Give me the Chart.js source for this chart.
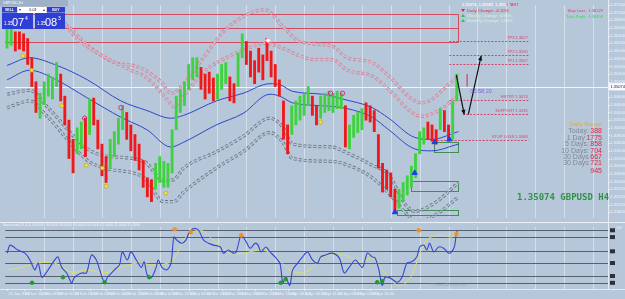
<!DOCTYPE html>
<html><head><meta charset="utf-8">
<script src="https://cdn.jsdelivr.net/npm/chart.js@4.4.1/dist/chart.umd.min.js"></script>
<style>
html,body{margin:0;padding:0;width:625px;height:299px;overflow:hidden;background:#b7c7da;}
canvas{position:absolute;left:0;}
#main{top:0;} #osc{top:222px;}
</style></head><body>
<canvas id="main" width="625" height="223"></canvas>
<canvas id="osc" width="625" height="77"></canvas>
<script>
// ===== DATA =====
const symbol = "GBPUSD", timeframe = "H4";
const currentPrice = 1.35074, bidPrice = 1.35074, askPrice = 1.35083;
const barHigh = [1.3665,1.3670,1.3650,1.3650,1.3645,1.36325,1.35825,1.3520,1.3490,1.3520,
 1.3540,1.35325,1.3570,1.3540,1.34825,1.3420,1.3370,1.3400,1.3415,1.3425,
 1.3475,1.34775,1.3420,1.33575,1.3325,1.3370,1.3390,1.3425,1.34575,1.3440,
 1.34075,1.33825,1.33575,1.3315,1.3270,1.3265,1.33075,1.3325,1.33125,1.33075,
 1.3395,1.34825,1.3500,1.3520,1.3565,1.35825,1.35825,1.35575,1.3540,1.3545,
 1.3530,1.3540,1.3565,1.3570,1.35325,1.3515,1.3595,1.3645,1.3625,1.3600,
 1.3575,1.36075,1.3590,1.36325,1.3600,1.3565,1.3525,1.3470,1.34075,1.34575,
 1.3470,1.34825,1.3490,1.35075,1.34825,1.34575,1.34825,1.3490,1.3495,1.3490,
 1.3495,1.3490,1.34575,1.34075,1.34325,1.3440,1.3450,1.3465,1.34575,1.3445,
 1.33825,1.33075,1.3290,1.32825,1.3240,1.3240,1.32575,1.3275,1.3300,1.33325,
 1.3390,1.3400,1.3415,1.34075,1.3395,1.3450,1.3445,1.34075,1.3470,1.3540];
const barLow = [1.36075,1.3615,1.3600,1.3605,1.3600,1.3565,1.35075,1.3440,1.3425,1.3460,
 1.34825,1.3475,1.35075,1.3470,1.34075,1.3320,1.32825,1.33325,1.3345,1.3325,
 1.33825,1.34075,1.3345,1.3275,1.32575,1.3295,1.3325,1.33575,1.3395,1.3370,
 1.3340,1.3315,1.3290,1.3245,1.3220,1.32075,1.3240,1.32575,1.3245,1.3245,
 1.32825,1.3395,1.3440,1.34575,1.3500,1.3525,1.35325,1.3500,1.3475,1.3490,
 1.3470,1.3475,1.3500,1.3515,1.3470,1.3465,1.35075,1.35825,1.3565,1.35325,
 1.3515,1.3545,1.3525,1.3575,1.35325,1.35075,1.34825,1.3370,1.33325,1.33825,
 1.34075,1.3420,1.34325,1.34575,1.34325,1.34075,1.3425,1.3440,1.3445,1.3440,
 1.3450,1.3450,1.3350,1.3345,1.3375,1.33875,1.3395,1.3420,1.3415,1.3390,
 1.3295,1.32325,1.3240,1.3220,1.31825,1.3190,1.32075,1.3225,1.3245,1.3270,
 1.33325,1.33575,1.3370,1.3365,1.33575,1.3395,1.3390,1.3365,1.3370,1.3470];
const barTrend = ("uu dddddd uuuuu dddd uu d u dddd uuuu ddddddd uuuuuuuuuuu dddd uuu dd uu " +
 "ddddddddddd uuuuu dd uuuuuu d uuuu dddddddd uuuuuuu ddd u dd uu").replace(/\s/g,'').split('');
const maUpper = [[0,1.35625],[5.5,1.35825],[11.5,1.3565],[19.5,1.3525],[27.6,1.3470],[33.9,1.3445],[39.7,1.3425],[42.8,1.34325],[50.7,1.3470],[57.2,1.3490],[63.7,1.3515],[66.1,1.35125],[69.2,1.3495],[76.4,1.34875],[81.3,1.3475],[88.5,1.34525],[92.5,1.3425],[98.8,1.3375],[102.9,1.3370],[109.4,1.3390]];
const maLower = [[0,1.3525],[5.5,1.3550],[11.5,1.35275],[19.5,1.34775],[27.6,1.34275],[33.9,1.3395],[39.7,1.3350],[42.8,1.33625],[50.7,1.34075],[57.2,1.34375],[63.7,1.34875],[66.1,1.34825],[69.2,1.3465],[76.4,1.34575],[81.3,1.34525],[88.5,1.34275],[92.5,1.3395],[98.8,1.3345],[102.9,1.3340],[109.4,1.33575]];
const bandRedOuter = [[4.3,1.3745],[14.7,1.3665],[19.5,1.3615],[26.0,1.3570],[31.5,1.3560],[37.3,1.3520],[39.7,1.3490],[42.8,1.3515],[47.6,1.35825],[52.4,1.3650],[57.2,1.3690],[62.5,1.37075],[66.8,1.3665],[70.9,1.3625],[78.8,1.36125],[82.5,1.35825],[88.5,1.3570],[92.5,1.3535],[98.1,1.3475],[100.5,1.3465],[108.9,1.3530]];
const bandRedInner = [[10.3,1.37325],[16.3,1.3640],[23.6,1.3585],[30.0,1.3550],[33.9,1.3530],[38.7,1.3475],[40.4,1.3455],[42.8,1.34825],[47.6,1.3545],[53.1,1.35825],[57.2,1.36025],[62.7,1.3620],[66.8,1.36075],[70.9,1.35875],[74.8,1.35775],[78.8,1.35775],[82.5,1.3550],[88.5,1.3535],[92.5,1.3500],[98.1,1.3440],[100.5,1.3430],[105.3,1.3450],[108.9,1.3480]];
const bandGrayInner = [[0,1.34875],[5.5,1.34975],[9.9,1.34525],[19.5,1.3345],[23.6,1.33275],[33.2,1.33125],[38.0,1.32625],[40.4,1.3265],[42.8,1.3295],[50.7,1.33375],[57.2,1.33775],[63.7,1.3425],[66.8,1.34025],[69.2,1.33575],[78.8,1.3350],[81.3,1.3340],[88.5,1.33025],[92.5,1.32775],[96.4,1.32025],[98.8,1.31825],[104.1,1.32075],[109.4,1.32575]];
const bandGrayOuter = [[0,1.34525],[5.5,1.3470],[9.9,1.34275],[19.5,1.3315],[23.6,1.3295],[33.2,1.3270],[38.0,1.32075],[40.4,1.32075],[42.8,1.32325],[50.7,1.3295],[57.2,1.33375],[63.7,1.33875],[66.8,1.33625],[69.2,1.3320],[78.8,1.33125],[81.3,1.33075],[88.5,1.3270],[93.3,1.3220],[96.9,1.3175],[99.3,1.3155],[104.1,1.3175],[109.4,1.3220]];
const swingLows = [[3.8,1.35875],[6.0,1.3550],[13.2,1.34575],[19.2,1.33025],[23.1,1.3295],[24.0,1.32475],[38.5,1.3230],[76.0,1.3415]];
const swingHighs = [[18.8,1.3425],[27.6,1.34525],[78.4,1.3490],[81.3,1.3490]];
const buyArrows = [[94.0,1.31800],[98.8,1.32825],[103.6,1.33625],[107.2,1.3370]];
const topMark = [[63.2,1.36275]];
const supplyZone = {to:109.4, levels:[1.36975,1.3660,1.36225]};
const demandZones = [[103.4,109.4,1.33375,1.33625],[97.8,109.4,1.3235,1.32625],[94.5,109.4,1.31725,1.3185]];
const targetLevels = [["TP3",1.36275,107.2],["TP2",1.35900,107.2],["TP1",1.35675,107.2],["ENTRY",1.34725,107.2],["SUPPORT",1.34350,110.5],["STOP LOSS",1.33675,103.4]];
const targetEnd = 126.2;
const projectionDown = [[108.9,1.35375],[110.8,1.34350]];
const projectionUp = [[111.8,1.34350],[114.9,1.35875]];
const liveBar = [[111.5,1.35075],[111.5,1.3540]];
const barTimer = "00:58:20";
const dailyRange = [["Today:",388],["1 Day",1775],["5 Days:",858],["10 Days:",704],["20 Days",667],["30 Days",721],["",945]];
const changes = [["Daily Change",-0.20],["Weekly Change",0.96],["Monthly Change",1.89]];
const stopLoss = 1.30229, takeProfit = 1.36858;
const oscMain = [[0,58],[0.7,71],[2.6,63],[4.3,58],[5.5,47],[6.7,31],[7.5,42],[8.4,19],[9.9,31],[11.5,47],[12.3,52],[13.2,35],[14.4,26],[15.6,10],[16.3,19],[18.0,26],[19.2,26],[20.4,55],[21.6,47],[22.4,31],[23.6,10],[24.3,19],[26.0,31],[27.2,39],[27.9,60],[29.1,47],[30.0,60],[31.3,47],[32.5,35],[33.2,44],[33.9,23],[34.9,18],[36.1,35],[36.6,47],[37.5,35],[38.7,31],[39.7,42],[40.4,84],[41.1,79],[42.3,74],[43.3,79],[44.0,90],[45.2,98],[46.4,95],[47.6,79],[48.8,74],[50.0,71],[51.7,68],[52.4,58],[53.6,63],[54.8,58],[55.5,60],[56.7,87],[57.7,79],[58.9,66],[60.1,74],[60.8,71],[61.5,60],[62.7,68],[63.7,60],[64.9,52],[66.1,42],[66.8,10],[67.5,18],[68.5,6],[69.2,31],[70.4,42],[71.6,52],[72.8,60],[74.0,47],[75.2,42],[76.0,52],[77.2,55],[78.8,58],[80.5,50],[81.7,26],[82.9,35],[84.4,47],[86.1,35],[87.3,58],[88.5,52],[89.2,50],[90.1,31],[90.9,6],[91.6,19],[92.8,18],[94.5,11],[95.7,19],[96.9,42],[98.1,44],[99.3,52],[100.0,68],[101.0,71],[101.7,63],[102.4,74],[103.4,60],[104.6,68],[105.8,66],[107.0,58],[107.7,60],[108.4,68],[108.9,90],[109.1,94]];
const oscSignal = [[0,31],[3.6,35],[7.5,42],[11.5,42],[15.6,27],[19.5,31],[23.6,26],[27.6,35],[31.5,42],[35.6,39],[39.7,44],[41.5,62],[43.5,85],[46.9,95],[50.0,79],[54.1,58],[57.2,58],[62.0,63],[65.1,52],[68.5,31],[71.6,26],[74.0,35],[76.4,52],[81.3,55],[86.1,44],[88.5,50],[90.5,35],[92.5,18],[95.0,5],[97.4,15],[99.0,38],[100.5,65],[102.2,82],[105.3,87],[107.7,84],[108.9,90]];
const oscBuyDots = [[6.0,10],[13.5,19],[23.6,11],[34.4,19],[66.3,10],[67.5,16],[89.7,11],[90.9,13]];
const oscSellDots = [[40.6,97],[44.5,92],[56.7,87],[99.8,95],[108.9,89]];
const oscLevels = [95,84,61,42,21,10];
const dateLabels = ["29 Jan 2018","31 Jan 16:00","5 Feb 08:00","8 Feb 00:00","12 Feb 16:00","15 Feb 08:00","20 Feb 00:00","22 Feb 16:00","27 Feb 08:00","2 Mar 00:00","6 Mar 16:00","9 Mar 08:00","14 Mar 00:00","16 Mar 16:00","21 Mar 08:00","26 Mar 00:00","28 Mar 16:00","2 Apr 08:00","5 Apr 00:00","9 Apr 16:00","12 Apr 08:00","17 Apr 00:00","19 Apr 16:00"];

// ===== STYLE / HELPERS =====
const BG = '#b7c7da';
const FONT = '"Liberation Sans", Arial, sans-serif';
const UP = '#3fd23f', DOWN = '#f01818';
const X_MIN = -0.5, X_MAX = 145.65;
const pts = a => a.map(p => ({x:p[0], y:p[1]}));
function line(ctx,x0,y0,x1,y1){ctx.beginPath();ctx.moveTo(x0,y0);ctx.lineTo(x1,y1);ctx.stroke();}
function text(ctx,s,x,y,font,color,align='left',base='middle'){ctx.font=font;ctx.fillStyle=color;ctx.textAlign=align;ctx.textBaseline=base;ctx.fillText(s,x,y);}
function arrowHead(ctx,x0,y0,x1,y1,size){const a=Math.atan2(y1-y0,x1-x0);ctx.beginPath();ctx.moveTo(x1,y1);ctx.lineTo(x1-size*Math.cos(a-0.45),y1-size*Math.sin(a-0.45));ctx.lineTo(x1-size*Math.cos(a+0.45),y1-size*Math.sin(a+0.45));ctx.closePath();ctx.fill();}
function bandSets(arr,color,order){
  const common = {type:'line', data:pts(arr), pointRadius:0, fill:false, cubicInterpolationMode:'monotone', borderDash:[3,2]};
  return [{...common, borderColor:color, borderWidth:3.2, order:order},
          {...common, borderColor:BG, borderWidth:1.4, order:order-1}];
}

// ===== MAIN CHART =====
const mainDecor = {
  id:'mainDecor',
  beforeDatasetsDraw(chart){
    const {ctx, chartArea:a, scales:{x,y}} = chart;
    const X=v=>x.getPixelForValue(v), Y=v=>y.getPixelForValue(v), r=v=>Math.round(v)+0.5;
    ctx.save(); ctx.lineWidth=1;
    ctx.strokeStyle='rgba(236,242,250,0.55)';
    for(let k=9;k<x.max;k+=7){const px=r(X(k));line(ctx,px,a.top,px,a.bottom);}
    ctx.strokeStyle='rgba(246,249,253,0.9)';
    const cp=r(Y(currentPrice)); line(ctx,a.left,cp,a.right,cp);
    ctx.strokeStyle='#d44a5e';
    const zx=r(X(supplyZone.to));
    supplyZone.levels.forEach(l=>{const py=r(Y(l));line(ctx,a.left,py,zx,py);});
    line(ctx,zx,r(Y(supplyZone.levels[0])),zx,r(Y(supplyZone.levels[2])));
    ctx.strokeStyle='#3f8e55';
    demandZones.forEach(([s,e,lo,hi])=>{const x0=r(X(s)),x1=r(X(e)),y0=r(Y(hi)),y1=r(Y(lo));ctx.strokeRect(x0,y0,x1-x0,y1-y0);});
    ctx.setLineDash([2,1.5]); ctx.strokeStyle='#d2466c';
    const xe=r(X(targetEnd));
    targetLevels.forEach(([n,p,s])=>{const py=r(Y(p));line(ctx,X(s),py,xe,py);});
    ctx.setLineDash([]);
    ctx.restore();
  },
  afterDatasetsDraw(chart){
    const {ctx, scales:{x,y}} = chart;
    const X=v=>x.getPixelForValue(v), Y=v=>y.getPixelForValue(v);
    ctx.save();
    ctx.fillStyle='#111';
    arrowHead(ctx,X(projectionDown[0][0]),Y(projectionDown[0][1]),X(projectionDown[1][0]),Y(projectionDown[1][1]),5);
    arrowHead(ctx,X(projectionUp[0][0]),Y(projectionUp[0][1]),X(projectionUp[1][0]),Y(projectionUp[1][1]),5);
    const xe=X(targetEnd);
    targetLevels.forEach(([n,p])=>text(ctx,n+' '+p.toFixed(4),xe,Y(p)-1,'4px '+FONT,'#d2466c','right','bottom'));
    text(ctx,barTimer,X(projectionUp[0][0])+2,Y(currentPrice)+4.5,'5.5px '+FONT,'#8a5fd6','left','middle');
    ctx.restore();
  },
  afterDraw(chart){
    const {ctx, scales:{y}} = chart;
    ctx.save();
    ctx.strokeStyle='rgba(238,243,250,0.85)'; ctx.lineWidth=1; line(ctx,608.5,0,608.5,223);
    ctx.fillStyle='#eef3fa';
    for(let k=0;k<=27;k++){const v=1.3180+k*0.002; const py=y.getPixelForValue(v); if(py<3||py>219) continue;
      ctx.fillStyle='#eef3fa'; ctx.fillRect(608,Math.round(py),2,1);
      text(ctx,v.toFixed(5),610.5,py,'4px '+FONT,'#eef3fa');}
    const cp=y.getPixelForValue(currentPrice);
    ctx.fillStyle='#f6f8fb'; ctx.fillRect(609,cp-3.5,16,7);
    text(ctx,currentPrice.toFixed(5),610.5,cp,'4px '+FONT,'#1a2330');
    // trade panel
    ctx.fillStyle='#9fb1c9'; ctx.fillRect(0,0,68,6.5);
    text(ctx,symbol+','+timeframe,3,3.3,'3.5px '+FONT,'#f0f4fa');
    ctx.fillStyle='#2f3fd6'; ctx.fillRect(2,7,15,5.5); ctx.fillRect(47,7,18,5.5);
    text(ctx,'SELL',9.5,9.9,'bold 3.5px '+FONT,'#ffffff','center');
    text(ctx,'BUY',56,9.9,'bold 3.5px '+FONT,'#ffffff','center');
    ctx.fillStyle='#ffffff'; ctx.fillRect(17.5,7,29,6);
    text(ctx,'▾',20,10,'4px '+FONT,'#333','center'); text(ctx,'▴',44,10,'4px '+FONT,'#333','center');
    text(ctx,'0.01',33,10,'3.8px '+FONT,'#222','center');
    ctx.fillStyle='#2f3fd6'; ctx.fillRect(2,13,31,16); ctx.fillRect(35,13,30,16);
    const drawQuote=(p,x0)=>{const s=p.toFixed(5);
      text(ctx,s.slice(0,4),x0,25,'4.5px '+FONT,'#ffffff','left','alphabetic');
      text(ctx,s.slice(4,6),x0+8,26,'11px '+FONT,'#ffffff','left','alphabetic');
      text(ctx,s.slice(6),x0+21,19.5,'5px '+FONT,'#ffffff','left','alphabetic');};
    drawQuote(bidPrice,4); drawQuote(askPrice,37);
    text(ctx,bidPrice.toFixed(5)+'  '+askPrice.toFixed(5)+'  '+currentPrice.toFixed(5),462,5,'bold 4px '+FONT,'#f4f6fa');
    text(ctx,'START',506,5,'4px '+FONT,'#e0304c');
    changes.forEach(([n,v],i)=>{const yy=10.5+i*5; const up=v>=0;
      ctx.fillStyle=up?'#2cc84a':'#e0283c'; ctx.beginPath();
      if(up){ctx.moveTo(461,yy+1.5);ctx.lineTo(465,yy+1.5);ctx.lineTo(463,yy-1.5);}else{ctx.moveTo(461,yy-1.5);ctx.lineTo(465,yy-1.5);ctx.lineTo(463,yy+1.5);}
      ctx.closePath(); ctx.fill();
      text(ctx,n+': '+v.toFixed(2)+'%',467,yy,'4.3px '+FONT,up?'#d6f3d8':'#e0283c');});
    text(ctx,'Stop Loss : '+stopLoss.toFixed(5),603,11,'4px '+FONT,'#e03a5a','right');
    text(ctx,'Take Profit : '+takeProfit.toFixed(5),603,17,'4px '+FONT,'#2fe04e','right');
    text(ctx,'Daily Range',602,124,'6px '+FONT,'#eea23a','right');
    let ry=131.5;
    dailyRange.forEach(([lab,val])=>{ if(!lab) ry+=1.5;
      text(ctx,String(val),602,ry,'7px '+FONT,'#e5243f','right');
      const w=ctx.measureText(String(val)).width;
      if(lab) text(ctx,lab,602-w-1.5,ry,'7px '+FONT,'#7f8997','right');
      ry+=6.4;});
    text(ctx,currentPrice.toFixed(5)+' '+symbol+' '+timeframe,517,198,'bold 9px "DejaVu Sans Mono", monospace','#2e9444');
    ctx.restore();
  }
};

new Chart(document.getElementById('main'), {
  type:'line',
  data:{datasets:[
    ...bandSets(bandRedOuter,'#e27d8e',40),
    ...bandSets(bandRedInner,'#e27d8e',38),
    ...bandSets(bandGrayInner,'#6b7584',36),
    ...bandSets(bandGrayOuter,'#6b7584',34),
    {type:'line', data:pts(maUpper), borderColor:'#2b47c9', borderWidth:1, pointRadius:0, cubicInterpolationMode:'monotone', order:20},
    {type:'line', data:pts(maLower), borderColor:'#2b47c9', borderWidth:1, pointRadius:0, cubicInterpolationMode:'monotone', order:20},
    {type:'bar', data:barHigh.map((h,i)=>({x:i, y:[barLow[i],h]})), backgroundColor:barTrend.map(t=>t==='u'?UP:DOWN), borderWidth:0, barThickness:2.2, grouped:false, order:10},
    {type:'line', data:pts(projectionDown), borderColor:'#111', borderWidth:1.2, pointRadius:0, order:2},
    {type:'line', data:pts(projectionUp), borderColor:'#111', borderWidth:1.2, pointRadius:0, order:2},
    {type:'line', data:pts(liveBar), borderColor:'#d02a3a', borderWidth:1, pointRadius:0, order:2},
    {type:'line', showLine:false, data:pts(swingLows), pointRadius:2, pointBackgroundColor:'#f3e23c', pointBorderColor:'#b99b12', pointBorderWidth:0.6, order:1},
    {type:'line', showLine:false, data:pts(swingHighs), pointRadius:2.2, pointBackgroundColor:'rgba(0,0,0,0)', pointBorderColor:'#cf2b86', pointBorderWidth:1, order:1},
    {type:'line', showLine:false, data:pts(buyArrows), pointStyle:'triangle', pointRadius:3, pointBackgroundColor:'#1d3fe8', pointBorderColor:'#1d3fe8', order:1},
    {type:'line', showLine:false, data:pts(topMark), pointStyle:'rectRot', pointRadius:2, pointBackgroundColor:'#ffffff', pointBorderColor:'#ffffff', order:1}
  ]},
  options:{
    responsive:false, animation:false, events:[],
    layout:{padding:{left:0,right:17,top:0,bottom:1}},
    plugins:{legend:{display:false}, tooltip:{enabled:false}},
    scales:{
      x:{type:'linear', min:X_MIN, max:X_MAX, display:false, offset:false},
      y:{type:'linear', min:1.3165, max:1.3720, display:false}
    }
  },
  plugins:[mainDecor]
});

// ===== OSCILLATOR =====
const oscDecor = {
  id:'oscDecor',
  beforeDatasetsDraw(chart){
    const {ctx, chartArea:a, scales:{x,y}} = chart;
    const r=v=>Math.round(v)+0.5;
    ctx.save(); ctx.lineWidth=1;
    ctx.strokeStyle='rgba(240,244,250,0.9)'; line(ctx,0,0.5,625,0.5);
    ctx.strokeStyle='rgba(236,242,250,0.55)';
    for(let k=9;k<x.max;k+=7){const px=r(x.getPixelForValue(k));line(ctx,px,a.top,px,a.bottom);}
    ctx.strokeStyle='#56606e';
    oscLevels.forEach(l=>{const py=r(y.getPixelForValue(l));line(ctx,a.left,py,a.right,py);});
    ctx.restore();
  },
  afterDraw(chart){
    const {ctx, chartArea:a, scales:{x,y}} = chart;
    ctx.save(); ctx.lineWidth=1;
    text(ctx,'Stochastic(14,3,3) '+oscMain[oscMain.length-1][1].toFixed(4)+' '+oscSignal[oscSignal.length-1][1].toFixed(4)+' '+oscLevels.map(v=>v.toFixed(4)).join(' '),3,3.2,'3.5px '+FONT,'#f0f4fa');
    ctx.strokeStyle='rgba(240,244,250,0.75)'; line(ctx,0,a.bottom+0.5,625,a.bottom+0.5);
    ctx.strokeStyle='rgba(238,243,250,0.85)'; line(ctx,608.5,0,608.5,a.bottom);
    oscLevels.forEach(l=>{const py=y.getPixelForValue(l); ctx.fillStyle='#2b313b'; ctx.fillRect(610,py-2,5,4);});
    text(ctx,'100',616,a.top+1,'3.5px '+FONT,'#eef3fa');
    dateLabels.forEach((d,i)=>{const px=x.getPixelForValue(i*4);
      ctx.fillStyle='rgba(240,244,250,0.8)'; ctx.fillRect(Math.round(px),a.bottom,1,2);
      text(ctx,d,px+1,72,'4px '+FONT,'#eef2f8');});
    text(ctx,'© Forex-Station.com',430,63,'4px '+FONT,'rgba(150,166,188,0.9)');
    ctx.restore();
  }
};

new Chart(document.getElementById('osc'), {
  type:'line',
  data:{datasets:[
    {data:pts(oscSignal), borderColor:'#dadf6c', borderWidth:1, pointRadius:0, tension:0.35, order:5},
    {data:pts(oscMain), borderColor:'#3446d0', borderWidth:1.1, pointRadius:0, tension:0.3, order:4},
    {data:pts(oscBuyDots), showLine:false, pointRadius:1.8, pointBackgroundColor:'#1f9a2c', pointBorderColor:'#1f9a2c', order:1},
    {data:pts(oscSellDots), showLine:false, pointStyle:'star', pointRadius:2.4, pointBorderWidth:1.2, pointBorderColor:'#f0902a', pointBackgroundColor:'#f0902a', order:1}
  ]},
  options:{
    responsive:false, animation:false, events:[],
    layout:{padding:{left:0,right:17,top:5,bottom:10}},
    plugins:{legend:{display:false}, tooltip:{enabled:false}},
    scales:{
      x:{type:'linear', min:X_MIN, max:X_MAX, display:false, offset:false},
      y:{type:'linear', min:0, max:100, display:false}
    }
  },
  plugins:[oscDecor]
});
</script></body></html>
